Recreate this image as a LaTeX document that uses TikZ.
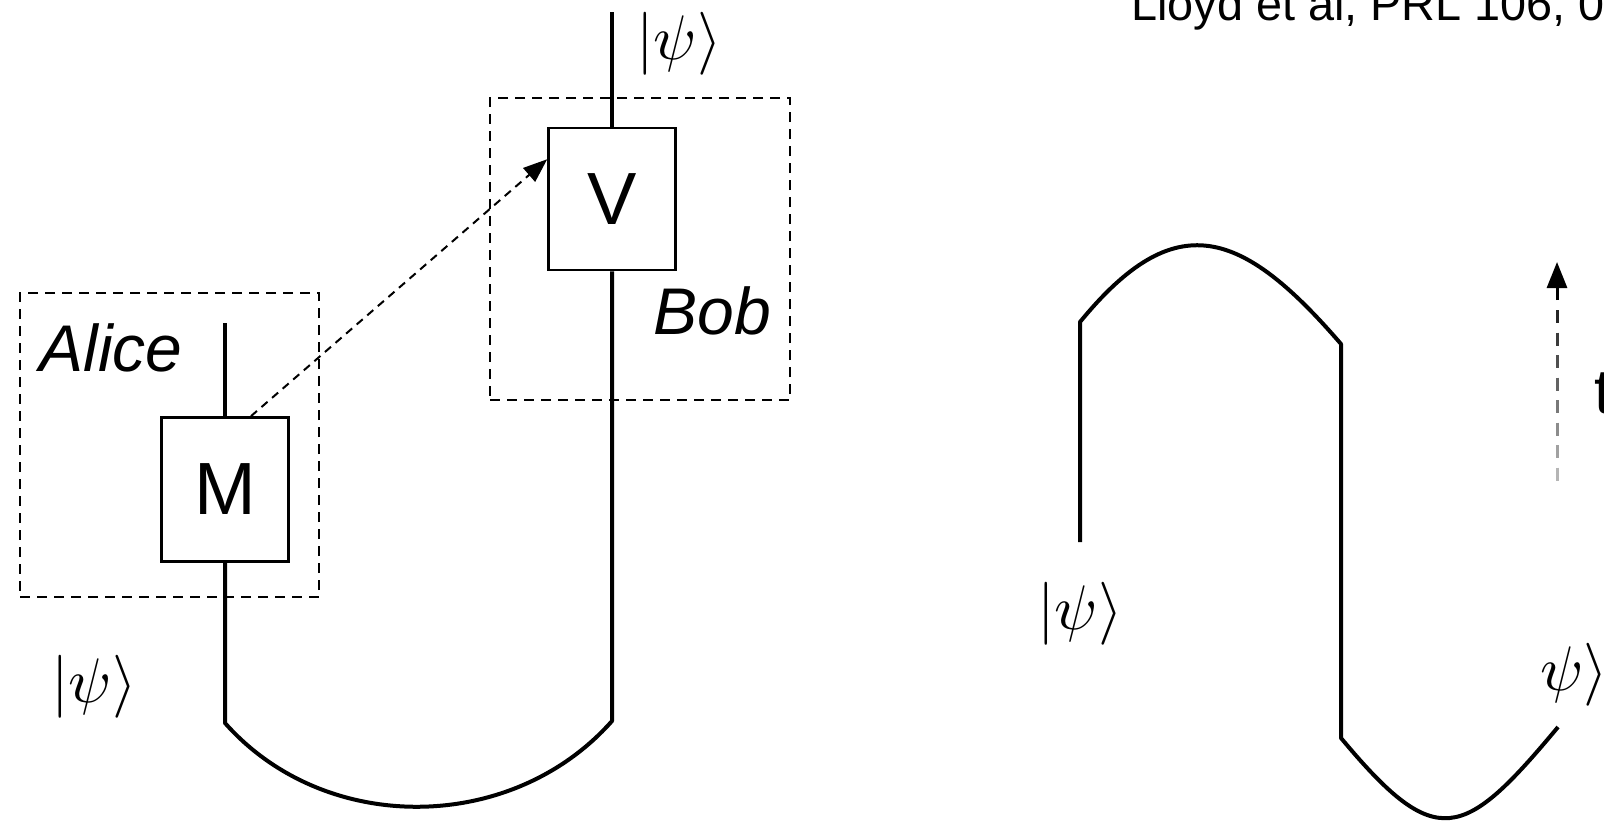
\documentclass[tikz,border=0pt]{standalone}
\usepackage{fontspec}
\setmainfont{Liberation Sans}
\DeclareFontShape{OML}{cmm}{m}{it}{<->cmmi10}{}
\DeclareFontShape{OMS}{cmsy}{m}{n}{<->cmsy10}{}
\usetikzlibrary{arrows.meta,calc}
\begin{document}
\begin{tikzpicture}[x=0.5pt,y=-0.5pt,
  wire/.style={line width=2pt, line join=round},
  gatebox/.style={draw, line width=1.3pt, minimum width=63.5pt, minimum height=72pt, inner sep=0pt, font=\fontsize{37}{40}\selectfont},
  partybox/.style={draw, dash pattern=on 5pt off 3.5pt, line width=1pt, inner sep=0pt},
  partyname/.style={font=\fontsize{33}{38}\selectfont\itshape, inner sep=0pt, anchor=base west},
  ket/.style={font=\fontsize{31.5}{36}\selectfont, inner sep=0pt},
  plaintext/.style={inner sep=0pt, anchor=base west},
  signal/.style={line width=1pt, dash pattern=on 4pt off 3pt, -{Triangle[length=12pt,width=9pt]}},
  timeline/.style={line width=1.5pt},
]
\useasboundingbox (0,0) rectangle (1604,837);
\clip (0,0) rectangle (1604,837);
\fill[white] (0,0) rectangle (1604,837);

% reference line
\node[plaintext, font=\fontsize{23.4}{28}\selectfont] (ref) at (1131,20) {Lloyd et al, PRL 106, 0};

% ---------- left figure ----------
\node[partybox, minimum width=149.5pt, minimum height=152pt] (alice) at (169.5,445) {};
\node[partyname] (alicename) at (39,371) {Alice};
\node[gatebox] (M) at (225,489.5) {M};

\node[partybox, minimum width=150pt, minimum height=151pt] (bob) at (640,249) {};
\node[partyname] (bobname) at (653,334) {Bob};
\node[gatebox, minimum height=71pt] (V) at (612,199) {V};

\coordinate (atop) at (225,323);
\coordinate (lb) at (225,723);
\coordinate (rb) at (612,721);
\coordinate (btop) at (612,12);

\draw[wire] (M.north) -- (atop);
\draw[wire] (M.south) -- (lb) .. controls (325,836) and (512,834) .. (rb) -- (V.south);
\draw[wire] (V.north) -- (btop);

\draw[signal] ($(M.north west)!0.7!(M.north east)$) -- ($(V.north west)!0.225!(V.south west)$);

\node[ket] (psitop) at (679,44) {$|\psi\rangle$};
\node[ket] (psileft) at (94,687) {$|\psi\rangle$};

% ---------- right figure ----------
\coordinate (c1) at (1080,542);
\coordinate (c2) at (1080,322);
\coordinate (c3) at (1341,344);
\coordinate (c4) at (1341,738);
\coordinate (c5) at (1558,727);
\draw[wire] (c1) -- (c2) .. controls (1175,206) and (1241,228) .. (c3) -- (c4) .. controls (1436,852) and (1463,841) .. (c5);

\node[ket] (psiR1) at (1080,614) {$|\psi\rangle$};
\node[ket, anchor=west] (psiR2) at (1540,675) {$\psi\rangle$};

% time arrow (fading dashes)
\coordinate (tt) at (1557,262);
\coordinate (th) at (1557,300);
\foreach \i in {0,...,7} {
  \pgfmathtruncatemacro\g{85-8*\i}
  \draw[timeline, black!\g] (1557,{310+22.5*\i}) -- (1557,{323+22.5*\i});
}
\draw[timeline, -{Triangle[length=13pt,width=10pt]}] (th) -- (tt);
\node[plaintext, font=\fontsize{31.5}{36}\selectfont] (tlabel) at (1594,413) {t};
\end{tikzpicture}
\end{document}
